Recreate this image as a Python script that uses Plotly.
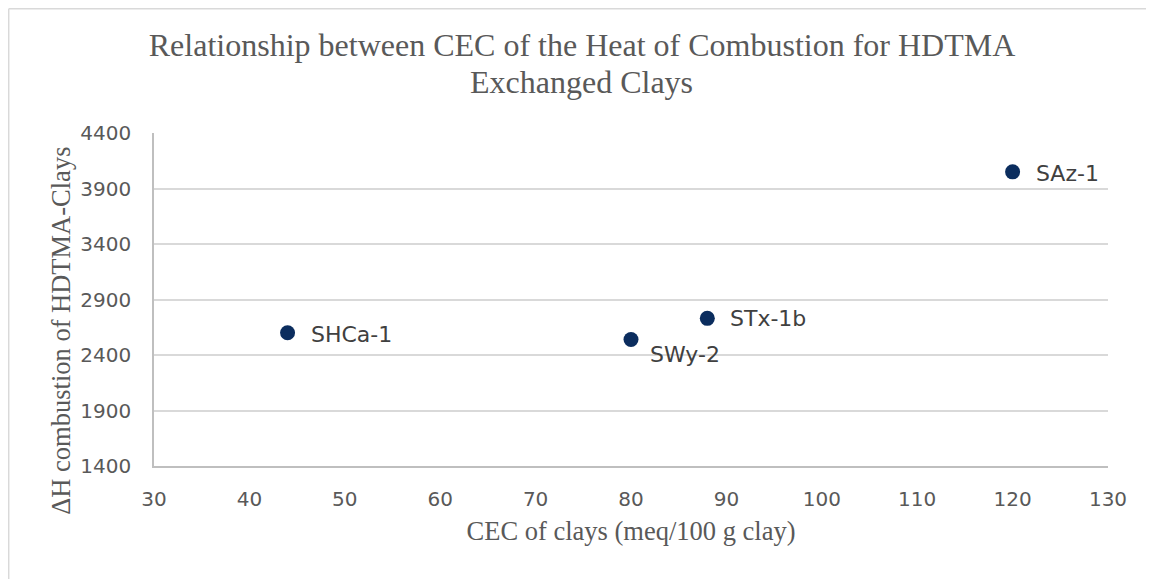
import plotly.graph_objects as go

# clay samples
clays = ["SHCa-1", "SWy-2", "STx-1b", "SAz-1"]
cec = [44, 80, 88, 120]
dh_comb = [2600, 2540, 2730, 4050]

# label offsets (px) next to each marker
label_dx = [21, 17, 21, 21]
label_dy = [-2, -15, 0, -2]

x_ticks = [30, 40, 50, 60, 70, 80, 90, 100, 110, 120, 130]
y_ticks = [1400, 1900, 2400, 2900, 3400, 3900, 4400]

TEXT = "#595959"
GRID = "#d9d9d9"
tick_font = dict(family="DejaVu Sans", size=20, color=TEXT)
serif = "Liberation Serif"

fig = go.Figure()
fig.add_trace(go.Scatter(
    x=cec, y=dh_comb, mode="markers",
    marker=dict(color="#0b2d5e", size=15),
    showlegend=False, hoverinfo="x+y"
))

for name, x, y, dx, dy in zip(clays, cec, dh_comb, label_dx, label_dy):
    fig.add_annotation(
        x=x, y=y, text=name, showarrow=False,
        xanchor="left", yanchor="middle", xshift=dx, yshift=dy,
        font=dict(family="DejaVu Sans", size=22, color="#404040")
    )

# second title line (Excel spaces the lines tighter than plotly does)
fig.add_annotation(
    xref="paper", yref="paper", x=0.4486, y=1.153,
    text="Exchanged Clays", showarrow=False,
    xanchor="center", yanchor="middle",
    font=dict(family=serif, size=32, color=TEXT)
)

# y title sits lower than the plot centre in the original
fig.add_annotation(
    xref="paper", yref="paper", x=-0.0969, y=0.405,
    text="ΔH combustion of HDTMA-Clays", showarrow=False, textangle=-90,
    xanchor="center", yanchor="middle",
    font=dict(family=serif, size=26.5, color=TEXT)
)

# outer chart border: only the left and top edges are in view
fig.add_shape(type="line", xref="paper", yref="paper",
              x0=-0.1523, x1=-0.1523, y0=-0.5, y1=1.373,
              line=dict(color=GRID, width=1.5), layer="below")
fig.add_shape(type="line", xref="paper", yref="paper",
              x0=-0.1523, x1=1.1, y0=1.373, y1=1.373,
              line=dict(color=GRID, width=1.5), layer="below")

fig.update_layout(
    width=1146, height=571,
    margin=dict(l=146, r=46, t=125, b=113),
    paper_bgcolor="white", plot_bgcolor="white",
    title=dict(
        text="Relationship between CEC of the Heat of Combustion for HDTMA",
        x=0.5009, xanchor="center", xref="container",
        y=0.9352, yanchor="middle", yref="container",
        font=dict(family=serif, size=32, color=TEXT)
    ),
    xaxis=dict(
        range=[30, 130], tickvals=x_ticks, showgrid=False, zeroline=False,
        showline=True, linecolor="#bfbfbf", linewidth=1.5,
        tickfont=tick_font, ticklabelstandoff=14,
        title=dict(text="CEC of clays (meq/100 g clay)", standoff=12,
                   font=dict(family=serif, size=26.5, color=TEXT))
    ),
    yaxis=dict(
        range=[1400, 4400], tickvals=y_ticks, showgrid=True, gridcolor=GRID,
        gridwidth=1.5, zeroline=False,
        showline=True, linecolor="#bfbfbf", linewidth=1.5,
        tickfont=tick_font, ticklabelstandoff=17,
    ),
)

fig.write_html("out.html")
